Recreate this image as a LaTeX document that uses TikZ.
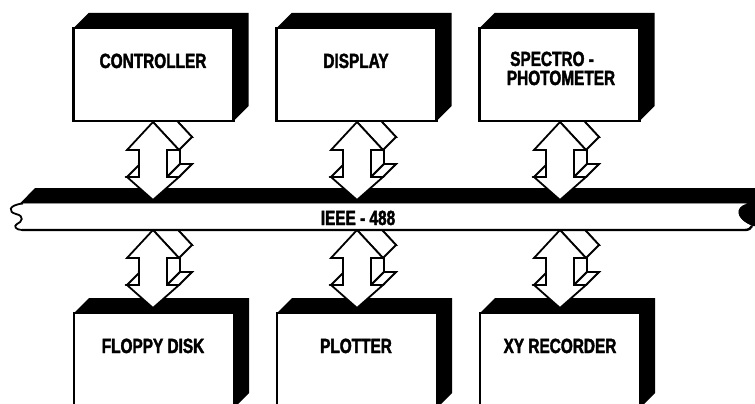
\documentclass[tikz,border=0pt]{standalone}
\usepackage{fontspec}
\setmainfont{Liberation Sans}[FakeStretch=0.75, BoldFeatures={FakeBold=2}]
\usetikzlibrary{calc}
\tikzset{
  frontbox/.style={draw, fill=white, line width=2.2pt, minimum width=160pt, inner sep=0pt, outer sep=0pt},
  lbl/.style={font=\fontsize{20.5}{18}\selectfont\bfseries, inner sep=0pt, anchor=base},
  arr/.style={draw, fill=white, line width=1.8pt, line join=miter},
}
\newcommand\extrude[1]{%
  \fill (#1.north west) -- ++(15,-15) -- ($(#1.north east)+(15,-15)$) -- ($(#1.south east)+(15,-15)$) -- (#1.south east) -- (#1.north east) -- cycle;}
\newcommand\tdarrow[1]{%
  \begin{scope}[shift={(#1)}]
    \filldraw[arr] (13,-13) -- (39,15) -- (27,15) -- (27,42) -- (39,42) -- (13,65) -- (-13,42) -- (-1,42) -- (-1,15) -- (-13,15) -- cycle;
    \filldraw[arr] (14,28) -- (14,55) -- (27,42) -- (27,15) -- cycle;
    \filldraw[arr] (0,0) -- (26,28) -- (39,15) -- (13,-13) -- cycle;
    \filldraw[arr] (14,55) -- (26,55) -- (39,42) -- (27,42) -- cycle;
    \filldraw[arr] (-26,55) -- (-14,55) -- (-1,42) -- (-13,42) -- cycle;
    \filldraw[arr] (0,0) -- (26,28) -- (14,28) -- (14,55) -- (26,55) -- (0,78) -- (-26,55) -- (-14,55) -- (-14,28) -- (-26,28) -- cycle;
  \end{scope}}
\begin{document}
\begin{tikzpicture}[x=1pt,y=-1pt]
\useasboundingbox (0,0) rectangle (755,404);
\clip (0,0) rectangle (755,404);
% bus top band and right end
\fill (20,203.5) -- (35,188) -- (760,188) -- (760,203.5) -- cycle;
\fill (760,203) -- (747,203) .. controls (734,207) and (735,219) .. (752,226) -- (760,226) -- cycle;
% bottom boxes
\node[frontbox, minimum height=95pt] (floppy) at (154,360.5) {};
\node[frontbox, minimum height=95pt] (plotter) at (357,360.5) {};
\node[frontbox, minimum height=95pt] (xyrec) at (560,360.5) {};
\extrude{floppy}\extrude{plotter}\extrude{xyrec}
% arrows
\coordinate (a1) at (153,122);
\coordinate (a2) at (357,122);
\coordinate (a3) at (560,122);
\coordinate (b1) at (153,230);
\coordinate (b2) at (357,230);
\coordinate (b3) at (560,230);
\tdarrow{a1}\tdarrow{a2}\tdarrow{a3}
\tdarrow{b1}\tdarrow{b2}\tdarrow{b3}
% top boxes
\node[frontbox, minimum height=93pt] (ctrl) at (153.5,74.5) {};
\node[frontbox, minimum height=93pt] (disp) at (356.5,74.5) {};
\node[frontbox, minimum height=93pt] (spec) at (559.5,74.5) {};
\extrude{ctrl}\extrude{disp}\extrude{spec}
% bus white body
\fill[white] (23,203.5) .. controls (8,205) and (8,212) .. (16,214) .. controls (25,216) and (22,222) .. (17,224) .. controls (13,226) and (16,230) .. (22,230) -- (745,230) .. controls (749,230) and (751,228) .. (752,226) .. controls (735,219) and (734,207) .. (747,203.5) -- cycle;
\draw[line width=1.8pt] (23,203.5) .. controls (8,205) and (8,212) .. (16,214) .. controls (25,216) and (22,222) .. (17,224) .. controls (13,226) and (16,230) .. (22,230);
\draw[line width=2.4pt] (22,230) -- (745,230) .. controls (749,230) and (751,228) .. (752,226);
% labels
\node[lbl] (tctrl) at (153,68) {CONTROLLER};
\node[lbl] (tdisp) at (356,68) {DISPLAY};
\node[lbl, anchor=base west] (tspec1) at (510,66) {SPECTRO -};
\node[lbl] (tspec2) at (561,85) {PHOTOMETER};
\node[lbl] (tbus) at (358,225) {IEEE - 488};
\node[lbl] (tflop) at (153,353) {FLOPPY DISK};
\node[lbl] (tplot) at (356,353) {PLOTTER};
\node[lbl] (txy) at (560,353) {XY RECORDER};
\end{tikzpicture}
\end{document}
